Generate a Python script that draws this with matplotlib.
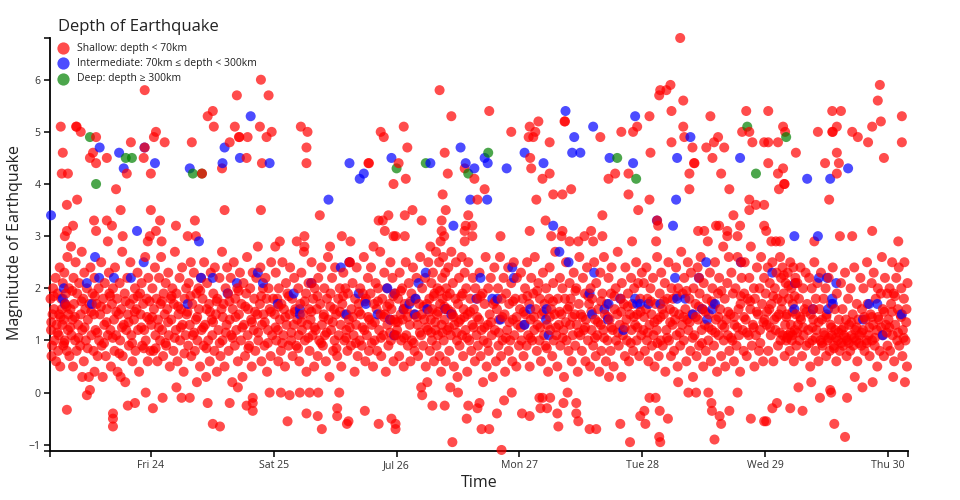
import matplotlib
matplotlib.use('Agg')
import matplotlib.pyplot as plt
from matplotlib.lines import Line2D
import pandas as pd

plt.rcParams['font.family'] = ['Open Sans', 'DejaVu Sans']

# shallow quakes (depth < 70km): (hour of day, magnitude), one list per day of July
shallow_jul23 = [
    (4.4, 1.8), (4.5, 1.2), (4.6, 0.7), (4.8, 1.5), (4.9, 2.0), (4.7, 0.9),
    (5.1, 1.6), (5.2, 1.0), (5.4, 2.2), (5.5, 0.6), (5.6, 1.3), (5.8, 1.9), (5.9, 0.8),
    (6.0, 1.1), (6.1, 1.5), (6.2, 2.4), (6.3, 0.5), (6.5, 1.8), (6.7, 1.3), (6.8, 2.1), (6.9, 0.9), (6.6, 1.6),
    (7.0, 1.4), (7.1, 2.3), (7.2, 1.0), (7.3, 1.7), (7.4, 1.9), (7.6, 0.8), (7.7, 2.6), (7.8, 1.2), (7.9, 1.5),
    (8.0, 2.0), (8.1, 0.7), (8.3, 1.6), (8.4, 2.8), (8.5, 1.1), (8.7, 1.4), (8.9, 2.2), (8.8, 0.5),
    (9.0, 1.7), (9.2, 1.0), (9.3, 2.5), (9.5, 0.8), (9.6, 1.9), (9.8, 1.3),
    (10.0, 2.1), (10.2, 0.9), (10.3, 1.5), (10.5, 2.7), (10.6, 1.2), (10.8, 1.8), (10.9, 0.6),
    (11.0, 2.3), (11.2, 1.6), (11.3, 1.0), (11.5, 2.0), (11.7, 1.4), (11.9, 0.3),
    (12.0, 1.7), (12.2, 2.4), (12.4, 1.1), (12.6, 1.9), (12.8, 0.8), (12.9, 1.5),
    (13.0, 2.2), (13.2, 1.2), (13.4, 1.7), (13.6, 0.7), (13.8, 2.0), (13.9, 1.0),
    (14.1, 1.5), (14.3, 2.5), (14.4, 0.9), (14.6, 0.3), (14.7, 1.8), (14.9, 1.3),
    (15.0, 2.1), (15.2, 0.7), (15.4, 1.6), (15.6, 1.1), (15.8, 2.3), (15.9, 1.9),
    (16.1, 1.2), (16.2, 0.5), (16.4, 1.7), (16.6, 2.0), (16.8, 1.4), (16.9, 0.8),
    (17.0, 2.4), (17.2, 1.1), (17.4, 1.8), (17.5, 0.4), (17.7, 1.5), (17.9, 2.1),
    (18.0, 1.0), (18.2, 1.6), (18.4, 2.7), (18.5, 0.7), (18.7, 1.3), (18.9, 1.9),
    (19.0, 0.2), (19.2, 1.2), (19.4, 2.2), (19.5, 1.5), (19.7, 0.9), (19.9, 1.7),
    (20.0, 2.5), (20.2, 1.1), (20.4, 0.6), (20.6, 1.8), (20.7, 1.4), (20.9, 2.0),
    (21.0, 0.8), (21.2, 1.6), (21.4, 2.3), (21.5, 1.2), (21.7, 0.4), (21.9, 1.9),
    (22.0, 1.5), (22.2, 2.1), (22.3, 0.9), (22.5, 1.7), (22.7, 1.2), (22.9, 2.6),
    (23.0, 1.0), (23.2, 1.8), (23.4, 0.6), (23.5, 2.2), (23.7, 1.4), (23.9, 0.8),
    (4.55, 1.35), (5.05, 1.85), (5.75, 1.15), (6.35, 1.45), (7.05, 0.95), (7.55, 1.65),
    (8.25, 1.25), (8.65, 1.95), (9.15, 1.45), (9.85, 1.05), (10.45, 1.75), (11.05, 1.25),
    (11.65, 0.85), (12.35, 1.55), (13.05, 1.85), (13.55, 1.15), (14.25, 1.65), (14.85, 0.95),
    (15.35, 1.35), (16.05, 1.85), (16.55, 1.05), (17.25, 1.55), (17.85, 0.75), (18.35, 1.25),
    (19.05, 1.75), (19.65, 1.35), (20.35, 0.95), (20.85, 1.55), (21.45, 1.85), (22.15, 1.25),
    (22.65, 0.85), (23.25, 1.45), (23.75, 1.75),
    (7.6, -0.33), (11.5, -0.05), (12.1, 0.05), (16.6, -0.4), (16.6, -0.5), (16.6, -0.65),
    (19.5, -0.25), (20.9, -0.2), (23.0, 0.0), (10.6, 0.3), (13.0, 0.4), (18.1, 0.3),
    (6.4, 5.1), (6.8, 4.6), (6.6, 4.2), (7.8, 4.2), (9.4, 5.1), (9.5, 5.1), (10.3, 5.0),
    (13.3, 4.9), (12.7, 4.6), (12.1, 4.5), (13.3, 4.4), (15.4, 4.5), (20.1, 4.8), (19.3, 4.2),
    (22.6, 4.5), (22.8, 5.8), (22.8, 4.7), (17.2, 3.9), (7.6, 3.6), (9.6, 3.7), (18.1, 3.5),
    (8.8, 3.2), (12.9, 3.3), (15.4, 3.3), (16.4, 3.2), (7.6, 3.1), (7.2, 3.0), (13.3, 3.1),
    (15.6, 2.9), (18.5, 3.0), (23.4, 2.9), (23.8, 3.0),
]

shallow_jul24 = [
    (0.1, 1.3), (0.3, 2.0), (0.5, 0.8), (0.6, 1.6), (0.8, 2.4), (0.9, 1.1),
    (1.1, 1.8), (1.3, 0.6), (1.4, 1.4), (1.6, 2.2), (1.8, 1.0), (1.9, 1.7),
    (2.0, 2.6), (2.2, 1.2), (2.4, 0.7), (2.5, 1.9), (2.7, 1.5), (2.9, 2.1),
    (3.0, 0.9), (3.2, 1.6), (3.4, 2.3), (3.5, 1.1), (3.7, 0.5), (3.9, 1.8),
    (4.0, 1.4), (4.2, 2.0), (4.4, 0.8), (4.5, 1.7), (4.7, 2.7), (4.9, 1.2),
    (5.0, 1.9), (5.2, 0.6), (5.4, 1.5), (5.6, 2.2), (5.7, 1.0), (5.9, 1.6),
    (6.1, 2.4), (6.2, 1.3), (6.4, 0.4), (6.6, 1.8), (6.8, 1.1), (6.9, 2.0),
    (7.0, 1.5), (7.3, 0.9), (7.4, 2.1), (7.6, 1.3), (7.8, 2.5), (7.9, 0.7),
    (8.1, 1.7), (8.2, 1.1), (8.4, 2.3), (8.6, 0.8), (8.8, 1.4), (8.9, 1.9),
    (9.1, 1.0), (9.3, 2.0), (9.4, 1.6), (9.6, 0.5), (9.8, 2.2), (9.9, 1.2),
    (10.1, 1.8), (10.3, 0.9), (10.4, 2.5), (10.6, 1.3), (10.8, 0.3), (10.9, 1.6),
    (11.0, 2.1), (11.2, 1.0), (11.4, 1.7), (11.5, 0.6), (11.7, 2.3), (11.9, 1.4),
    (12.0, 1.1), (12.2, 1.9), (12.4, 0.8), (12.5, 2.4), (12.7, 1.5), (12.9, 0.4),
    (13.0, 1.8), (13.2, 1.2), (13.4, 2.2), (13.6, 0.7), (13.8, 1.6), (13.9, 2.7),
    (14.0, 1.0), (14.2, 1.7), (14.4, 0.5), (14.6, 2.0), (14.8, 1.3), (14.9, 2.4),
    (15.1, 1.9), (15.2, 0.8), (15.4, 1.4), (15.6, 2.2), (15.7, 1.1), (15.9, 0.2),
    (16.0, 1.6), (16.2, 2.5), (16.4, 0.9), (16.5, 1.8), (16.7, 1.2), (16.9, 2.0),
    (17.0, 0.6), (17.2, 1.5), (17.4, 2.3), (17.6, 1.0), (17.7, 1.7), (17.9, 0.3),
    (18.1, 2.1), (18.2, 1.3), (18.4, 0.7), (18.6, 1.9), (18.8, 2.6), (18.9, 1.1),
    (19.0, 1.6), (19.2, 0.9), (19.4, 2.0), (19.6, 1.4), (19.7, 0.5), (19.9, 2.3),
    (20.1, 1.2), (20.2, 1.8), (20.4, 0.8), (20.6, 2.2), (20.8, 1.5), (20.9, 2.8),
    (21.0, 1.0), (21.3, 1.7), (21.4, 2.4), (21.6, 0.6), (21.7, 1.3), (21.9, 2.0),
    (22.0, 1.5), (22.2, 0.9), (22.4, 2.2), (22.6, 1.8), (22.7, 0.4), (22.9, 1.2),
    (23.0, 2.0), (23.2, 1.6), (23.4, 0.7), (23.5, 2.5), (23.7, 1.1), (23.9, 1.8),
    (0.25, 1.45), (0.95, 0.85), (1.55, 1.25), (2.15, 1.75), (2.85, 0.95), (3.35, 1.35),
    (4.05, 1.85), (4.65, 1.05), (5.35, 1.65), (5.85, 1.25), (6.55, 0.75), (7.15, 1.55),
    (7.75, 1.85), (8.45, 1.15), (9.05, 1.45), (9.65, 1.95), (10.25, 1.25), (10.85, 0.85),
    (11.55, 1.55), (12.15, 1.35), (12.85, 1.75), (13.45, 0.95), (14.05, 1.45), (14.65, 1.15),
    (15.35, 1.75), (15.95, 1.05), (16.55, 1.45), (17.15, 1.95), (17.85, 1.25), (18.45, 1.65),
    (19.05, 0.85), (19.75, 1.35), (20.35, 1.55), (20.95, 1.15), (21.55, 1.85), (22.25, 1.35),
    (22.85, 0.95), (23.45, 1.55),
    (0.4, -0.3), (2.3, -0.1), (6.0, -0.1), (7.6, -0.1), (11.1, -0.2), (12.1, -0.6),
    (13.5, -0.65), (15.4, -0.2), (18.7, -0.25), (19.9, -0.2), (19.9, -0.1), (19.9, -0.35),
    (23.2, 0.0), (5.0, 0.1), (9.0, 0.2), (17.0, 0.1),
    (1.0, 5.0), (0.6, 4.9), (2.7, 4.8), (0.0, 4.2), (0.0, 3.5), (1.8, 3.3), (1.0, 3.1),
    (2.1, 2.9), (4.9, 3.2), (8.0, 4.8), (10.0, 4.2), (8.6, 3.3), (7.2, 3.0), (8.8, 3.0),
    (11.1, 5.3), (12.1, 5.4), (12.3, 5.1), (14.4, 3.5), (13.9, 4.3), (15.4, 4.8), (16.8, 5.7),
    (16.4, 5.1), (17.2, 4.9), (17.3, 4.9), (18.9, 4.9), (18.7, 4.5), (21.5, 6.0), (21.3, 5.1),
    (21.7, 4.4), (21.5, 3.5), (22.6, 4.9), (23.0, 5.7), (23.6, 5.0),
]

shallow_jul25 = [
    (0.2, 1.5), (0.4, 2.3), (0.5, 1.0), (0.7, 1.8), (0.9, 0.6), (0.8, 1.2),
    (1.0, 2.0), (1.2, 1.4), (1.4, 0.8), (1.5, 1.7), (1.7, 2.5), (1.9, 1.1),
    (2.0, 1.6), (2.2, 0.5), (2.4, 2.1), (2.5, 1.3), (2.7, 1.9), (2.9, 0.9),
    (3.1, 1.5), (3.2, 2.4), (3.4, 1.0), (3.6, 1.8), (3.7, 0.7), (3.9, 1.3),
    (4.0, 2.2), (4.2, 1.6), (4.4, 0.9), (4.6, 1.4), (4.8, 2.0), (4.9, 1.1),
    (5.0, 0.6), (5.2, 1.7), (5.4, 2.3), (5.5, 1.2), (5.7, 1.5), (5.9, 2.7),
    (6.1, 1.0), (6.3, 1.9), (6.4, 0.4), (6.6, 1.3), (6.8, 2.1), (6.9, 1.6),
    (7.0, 0.8), (7.2, 1.4), (7.4, 2.5), (7.6, 1.1), (7.7, 1.8), (7.9, 0.5),
    (8.0, 2.0), (8.2, 1.2), (8.4, 1.6), (8.6, 0.7), (8.7, 2.2), (8.9, 1.0),
    (9.1, 1.7), (9.3, 2.4), (9.4, 1.3), (9.6, 0.9), (9.8, 1.5), (9.9, 2.0),
    (10.0, 1.1), (10.2, 0.6), (10.4, 1.8), (10.6, 2.6), (10.7, 1.4), (10.9, 0.3),
    (11.1, 1.9), (11.2, 1.2), (11.4, 2.2), (11.6, 0.8), (11.8, 1.6), (11.9, 1.0),
    (12.0, 2.4), (12.2, 1.5), (12.4, 0.7), (12.6, 1.8), (12.7, 1.1), (12.9, 2.0),
    (13.1, 1.3), (13.2, 0.5), (13.4, 1.7), (13.6, 2.3), (13.8, 1.0), (13.9, 1.5),
    (14.0, 2.0), (14.2, 1.2), (14.4, 0.8), (14.5, 1.9), (14.7, 1.4), (14.9, 2.5),
    (15.1, 0.9), (15.2, 1.6), (15.4, 2.1), (15.6, 1.1), (15.8, 0.4), (15.9, 1.8),
    (16.1, 1.3), (16.2, 2.4), (16.4, 0.7), (16.6, 1.7), (16.8, 1.0), (16.9, 2.0),
    (17.0, 1.5), (17.2, 0.9), (17.4, 1.9), (17.6, 2.6), (17.7, 1.2), (17.9, 0.6),
    (18.0, 1.8), (18.2, 1.1), (18.4, 2.2), (18.6, 0.8), (18.7, 1.4), (18.9, 1.9),
    (19.0, 2.4), (19.2, 1.3), (19.4, 0.5), (19.6, 1.7), (19.7, 1.0), (19.9, 2.1),
    (20.1, 1.6), (20.2, 0.8), (20.4, 2.0), (20.6, 1.2), (20.8, 2.7), (20.9, 1.5),
    (21.0, 0.7), (21.2, 1.8), (21.4, 1.1), (21.6, 2.3), (21.7, 1.5), (21.9, 0.4),
    (22.1, 2.0), (22.2, 1.3), (22.4, 0.9), (22.6, 1.7), (22.8, 2.5), (22.9, 1.0),
    (23.0, 1.6), (23.2, 2.2), (23.4, 0.6), (23.6, 1.4), (23.7, 1.9), (23.9, 1.1),
    (0.35, 1.25), (0.95, 1.65), (1.65, 0.95), (2.25, 1.45), (2.95, 1.85), (3.45, 1.15),
    (4.15, 1.55), (4.75, 0.85), (5.45, 1.35), (6.05, 1.75), (6.75, 1.05), (7.35, 1.55),
    (7.95, 1.25), (8.55, 1.85), (9.25, 0.95), (9.75, 1.45), (10.35, 1.15), (11.05, 1.65),
    (11.55, 1.35), (12.25, 0.85), (12.95, 1.55), (13.55, 1.85), (14.15, 1.05), (14.85, 1.25),
    (15.45, 1.45), (16.05, 0.95), (16.65, 1.55), (17.35, 1.25), (17.85, 1.75), (18.45, 1.45),
    (19.15, 0.95), (19.75, 1.35), (20.35, 1.75), (20.95, 1.05), (21.55, 1.45), (22.15, 1.65),
    (22.75, 1.15), (23.35, 1.85), (23.85, 1.35),
    (0.3, 2.8), (4.5, 2.9), (11.0, 2.8), (15.0, 2.9), (19.5, 2.8),
    (2.7, -0.55), (3.1, -0.05), (5.1, 0.0), (6.4, -0.4), (8.6, -0.45), (9.4, -0.7),
    (14.3, -0.6), (14.6, -0.55), (20.5, -0.6), (23.0, -0.5), (23.8, -0.6), (23.8, -0.7),
    (12.4, -0.3), (12.4, -0.45), (12.8, 0.0), (17.8, -0.35), (7.0, 0.0), (8.7, 0.0), (1.4, 0.0),
    (5.3, 5.1), (6.6, 5.0), (6.4, 4.7), (6.4, 4.4), (9.0, 3.4), (1.2, 2.9), (6.0, 3.0),
    (6.0, 2.8), (13.3, 3.0), (18.5, 4.4), (18.6, 4.4), (20.9, 5.0), (21.5, 4.9), (20.5, 3.3),
    (21.3, 3.3), (22.4, 3.4), (21.7, 3.1), (23.4, 3.0), (23.8, 3.0), (23.4, 4.0),
    (7.4, 2.1), (14.8, 2.5), (22.8, 1.4), (23.6, 1.1),
]

shallow_jul26 = [
    (0.1, 1.2), (0.3, 1.8), (0.5, 0.7), (0.6, 2.3), (0.8, 1.5), (0.9, 1.0),
    (1.1, 2.0), (1.2, 1.4), (1.4, 0.5), (1.6, 1.7), (1.8, 2.5), (1.9, 1.1),
    (2.0, 1.6), (2.2, 0.9), (2.4, 2.1), (2.6, 1.3), (2.7, 0.6), (2.9, 1.9),
    (3.0, 1.0), (3.2, 2.4), (3.4, 1.5), (3.5, 0.8), (3.7, 1.8), (3.9, 2.2),
    (4.1, 1.3), (4.2, 0.7), (4.4, 1.7), (4.6, 2.6), (4.8, 1.1), (4.9, 1.5),
    (5.0, 2.0), (5.2, 0.9), (5.4, 1.4), (5.6, 2.2), (5.7, 0.5), (5.9, 1.7),
    (6.1, 1.2), (6.2, 2.5), (6.4, 1.8), (6.5, 0.8), (6.7, 1.4), (6.8, 2.1), (6.9, 1.0), (6.6, 2.8),
    (7.0, 1.6), (7.1, 2.3), (7.3, 0.6), (7.4, 1.9), (7.6, 1.2), (7.7, 2.7), (7.8, 0.9), (7.9, 1.5),
    (8.0, 2.0), (8.1, 1.1), (8.3, 2.5), (8.4, 0.7), (8.5, 1.7), (8.6, 2.9), (8.8, 1.3), (8.9, 2.2), (8.7, 0.4),
    (9.0, 1.8), (9.1, 2.6), (9.2, 1.0), (9.4, 1.4), (9.5, 2.3), (9.6, 0.6), (9.7, 2.0), (9.9, 1.2), (9.3, 3.0),
    (10.0, 1.6), (10.1, 2.4), (10.3, 0.8), (10.4, 1.9), (10.6, 1.1), (10.7, 2.7), (10.9, 1.5),
    (11.0, 2.1), (11.2, 0.5), (11.3, 1.3), (11.5, 1.8), (11.6, 2.5), (11.8, 1.0), (11.9, 0.3),
    (12.0, 1.7), (12.2, 2.2), (12.3, 0.9), (12.5, 1.4), (12.7, 2.6), (12.8, 1.1), (12.9, 1.9),
    (13.0, 0.7), (13.1, 1.6), (13.3, 2.3), (13.5, 1.2), (13.6, 2.0), (13.8, 0.4), (13.9, 1.5),
    (14.0, 2.5), (14.2, 1.0), (14.4, 1.8), (14.6, 0.8), (14.8, 1.3), (14.9, 2.2),
    (15.1, 1.6), (15.3, 0.6), (15.4, 2.0), (15.6, 1.1), (15.8, 1.8), (15.9, 0.9),
    (16.1, 1.4), (16.2, 2.3), (16.4, 0.7), (16.6, 1.2), (16.8, 1.9), (16.9, 0.2),
    (17.0, 1.0), (17.2, 1.7), (17.4, 2.6), (17.6, 0.5), (17.8, 1.3), (17.9, 2.0),
    (18.0, 0.8), (18.2, 1.5), (18.4, 2.2), (18.6, 1.1), (18.8, 0.3), (18.9, 1.7),
    (19.1, 2.4), (19.2, 1.2), (19.4, 0.6), (19.6, 1.6), (19.8, 2.0), (19.9, 0.9),
    (20.0, 1.4), (20.2, 2.6), (20.4, 0.7), (20.5, 1.8), (20.7, 1.0), (20.9, 2.2),
    (21.1, 1.5), (21.2, 0.4), (21.4, 1.9), (21.6, 1.2), (21.8, 2.4), (21.9, 0.8),
    (22.0, 1.7), (22.2, 1.0), (22.4, 2.1), (22.6, 0.6), (22.7, 1.4), (22.9, 2.5),
    (23.0, 1.1), (23.2, 1.8), (23.4, 0.5), (23.5, 2.2), (23.7, 1.3), (23.9, 0.9),
    (0.25, 1.35), (0.85, 1.95), (1.45, 1.05), (2.15, 1.45), (2.75, 1.75), (3.35, 0.95),
    (3.95, 1.45), (4.55, 1.15), (5.25, 1.65), (5.85, 1.25), (6.35, 1.55), (6.75, 1.15),
    (7.25, 1.85), (7.55, 1.35), (8.15, 1.55), (8.45, 1.95), (8.95, 1.15), (9.35, 1.65),
    (9.85, 1.85), (10.25, 1.25), (10.65, 1.55), (11.15, 1.45), (11.75, 1.15), (12.15, 1.35),
    (12.65, 1.85), (13.25, 1.45), (13.75, 1.05), (14.35, 1.55), (15.05, 1.25), (15.75, 1.45),
    (16.45, 1.85), (17.15, 1.25), (17.75, 0.95), (18.45, 1.35), (19.25, 1.75), (19.95, 1.15),
    (20.65, 1.45), (21.35, 1.05), (22.05, 1.35), (22.75, 1.75), (23.45, 1.45),
    (5.0, -0.05), (7.0, -0.25), (9.4, -0.25), (10.9, -0.95), (13.7, -0.5), (14.0, -0.25),
    (16.6, -0.7), (18.1, -0.7), (19.6, -0.4), (20.5, -1.1), (15.8, -0.3), (16.2, -0.2),
    (4.8, 0.1), (12.0, 0.0), (22.5, 0.0), (21.0, -0.15), (6.0, 0.2), (10.5, 0.1),
    (0.4, 4.4), (1.4, 5.1), (2.1, 4.7), (1.8, 4.1), (1.6, 3.4), (3.1, 3.5), (4.9, 3.3),
    (1.6, 3.0), (8.4, 5.8), (10.7, 5.3), (9.4, 4.6), (10.0, 4.2), (9.0, 3.8), (9.6, 3.5),
    (8.8, 3.3), (8.8, 3.1), (13.3, 4.3), (15.2, 4.1), (14.0, 3.4), (13.5, 3.2), (14.8, 3.2),
    (13.3, 3.1), (14.8, 3.0), (13.3, 2.9), (18.1, 5.4), (15.8, 3.7), (17.2, 3.9), (20.3, 3.0),
    (22.4, 5.0), (1.4, 1.6), (9.6, 1.6),
]

shallow_jul27 = [
    (0.1, 1.6), (0.3, 2.3), (0.4, 1.0), (0.6, 1.8), (0.8, 0.7), (0.9, 1.3),
    (1.1, 2.0), (1.2, 1.5), (1.4, 0.9), (1.5, 2.5), (1.7, 1.1), (1.9, 1.7),
    (2.0, 0.5), (2.2, 1.4), (2.3, 2.2), (2.5, 1.0), (2.7, 1.9), (2.9, 1.2),
    (3.0, 2.6), (3.2, 1.6), (3.4, 0.8), (3.5, 1.3), (3.7, 2.1), (3.9, 1.0),
    (4.0, 1.8), (4.2, 0.6), (4.4, 1.5), (4.6, 2.3), (4.8, 1.1), (4.9, 1.7),
    (5.1, 0.9), (5.2, 2.0), (5.4, 1.3), (5.6, 0.4), (5.8, 1.8), (5.9, 2.4),
    (6.0, 1.2), (6.2, 1.6), (6.4, 0.7), (6.6, 2.1), (6.7, 1.0), (6.9, 1.5),
    (7.0, 2.7), (7.2, 1.1), (7.4, 0.5), (7.5, 1.8), (7.7, 1.3), (7.9, 2.2),
    (8.0, 0.9), (8.2, 1.5), (8.4, 2.0), (8.6, 1.2), (8.7, 0.3), (8.9, 1.8),
    (9.1, 2.5), (9.2, 1.0), (9.4, 1.6), (9.6, 0.8), (9.8, 2.1), (9.9, 1.3),
    (10.0, 1.8), (10.2, 0.6), (10.4, 1.1), (10.6, 2.3), (10.8, 1.5), (10.9, 0.9),
    (11.1, 2.0), (11.2, 1.3), (11.4, 0.4), (11.6, 1.7), (11.7, 2.6), (11.9, 1.1),
    (12.0, 1.5), (12.2, 0.8), (12.4, 2.2), (12.6, 1.2), (12.8, 1.9), (12.9, 0.6),
    (13.0, 1.4), (13.2, 2.4), (13.4, 1.0), (13.6, 1.7), (13.8, 0.5), (13.9, 2.0),
    (14.1, 1.2), (14.2, 1.8), (14.4, 0.9), (14.6, 2.5), (14.8, 1.4), (14.9, 0.7),
    (15.0, 2.1), (15.2, 1.1), (15.4, 1.6), (15.6, 0.4), (15.8, 2.3), (15.9, 1.3),
    (16.0, 0.8), (16.2, 1.9), (16.4, 1.2), (16.5, 2.6), (16.7, 1.5), (16.9, 0.6),
    (17.1, 1.7), (17.2, 1.0), (17.4, 2.2), (17.6, 1.4), (17.8, 0.8), (17.9, 1.9),
    (18.0, 2.4), (18.2, 1.2), (18.4, 0.5), (18.6, 1.6), (18.8, 2.0), (18.9, 1.0),
    (19.1, 1.5), (19.2, 2.7), (19.4, 0.9), (19.6, 1.3), (19.8, 1.8), (19.9, 0.3),
    (20.0, 2.1), (20.2, 1.1), (20.4, 1.7), (20.6, 0.7), (20.7, 2.4), (20.9, 1.4),
    (21.0, 1.0), (21.2, 1.9), (21.4, 0.6), (21.6, 1.5), (21.8, 2.2), (21.9, 1.2),
    (22.1, 1.7), (22.2, 0.8), (22.4, 2.0), (22.6, 1.3), (22.8, 2.5), (22.9, 1.0),
    (23.0, 1.5), (23.2, 2.1), (23.4, 0.7), (23.6, 1.8), (23.8, 1.1), (23.9, 2.3),
    (0.25, 1.25), (0.85, 1.55), (1.55, 1.85), (2.15, 1.05), (2.85, 1.45), (3.45, 1.95),
    (4.05, 1.25), (4.75, 1.55), (5.35, 0.85), (5.95, 1.45), (6.55, 1.75), (7.15, 1.25),
    (7.85, 1.55), (8.45, 1.05), (9.05, 1.35), (9.75, 1.65), (10.35, 1.45), (10.95, 1.95),
    (11.55, 1.15), (12.25, 1.45), (12.85, 1.25), (13.45, 1.85), (14.05, 1.55), (14.75, 1.05),
    (15.35, 1.35), (15.95, 1.75), (16.55, 1.05), (17.25, 1.45), (17.95, 1.25), (18.55, 1.85),
    (19.25, 1.15), (19.85, 1.55), (20.55, 1.25), (21.15, 1.65), (21.75, 0.95), (22.35, 1.45),
    (23.05, 1.25), (23.65, 1.55),
    (3.9, -0.1), (4.1, -0.3), (4.5, -0.1), (5.4, -0.3), (6.0, -0.1), (7.4, -0.4),
    (7.6, -0.65), (8.6, -0.2), (11.1, -0.2), (11.1, -0.4), (11.5, -0.55), (13.7, -0.7),
    (15.0, -0.7), (17.5, 0.3), (19.7, -0.6), (21.6, -0.95), (23.6, -0.45), (9.4, 0.0),
    (2.0, -0.45), (0.5, -0.4),
    (2.0, 5.1), (3.1, 5.0), (3.7, 5.2), (1.8, 4.9), (2.7, 4.9), (5.9, 4.8), (2.1, 4.5),
    (2.3, 4.3), (5.9, 4.2), (4.5, 4.1), (3.3, 3.7), (6.6, 3.8), (8.4, 3.8), (10.1, 3.9),
    (5.1, 3.3), (2.0, 3.1), (8.8, 5.2), (8.9, 5.2), (6.2, 3.0), (8.4, 3.1), (8.2, 3.0),
    (9.8, 2.9), (11.5, 2.9), (12.7, 3.0), (14.0, 3.1), (14.4, 2.9), (16.2, 3.0), (15.8, 4.9),
    (16.2, 3.4), (17.4, 4.1), (18.7, 4.2), (19.9, 5.0), (21.3, 4.2), (21.3, 3.8), (22.0, 2.9),
    (22.2, 5.0), (23.0, 5.1), (23.2, 3.5),
]

shallow_jul28 = [
    (0.2, 1.2), (0.3, 2.1), (0.5, 0.8), (0.7, 1.6), (0.8, 2.4), (0.9, 1.0),
    (1.0, 1.8), (1.2, 0.6), (1.4, 1.3), (1.6, 2.0), (1.8, 1.5), (1.9, 0.9),
    (2.1, 2.2), (2.2, 1.1), (2.4, 0.5), (2.6, 1.7), (2.8, 1.2), (2.9, 2.6),
    (3.0, 1.4), (3.2, 0.7), (3.4, 1.9), (3.6, 1.0), (3.7, 2.3), (3.9, 1.6),
    (4.0, 0.9), (4.2, 1.5), (4.4, 2.1), (4.5, 0.4), (4.7, 1.2), (4.9, 1.8),
    (5.1, 2.5), (5.2, 1.0), (5.4, 1.6), (5.6, 0.7), (5.7, 2.0), (5.9, 1.3),
    (6.0, 1.8), (6.2, 0.8), (6.4, 1.4), (6.6, 2.4), (6.7, 1.1), (6.9, 0.5),
    (7.0, 2.0), (7.2, 1.5), (7.4, 0.9), (7.6, 2.7), (7.8, 1.3), (7.9, 1.9),
    (8.1, 1.0), (8.2, 2.2), (8.4, 1.6), (8.6, 0.6), (8.8, 1.4), (8.9, 2.5),
    (9.0, 1.2), (9.2, 1.8), (9.4, 0.8), (9.5, 2.3), (9.7, 1.5), (9.9, 0.3),
    (10.0, 2.0), (10.2, 1.1), (10.4, 1.7), (10.6, 0.7), (10.8, 2.4), (10.9, 1.4),
    (11.1, 0.9), (11.2, 1.9), (11.4, 2.6), (11.6, 1.2), (11.8, 1.6), (11.9, 0.5),
    (12.0, 2.1), (12.2, 1.3), (12.4, 0.8), (12.6, 1.8), (12.8, 2.9), (12.9, 1.0),
    (13.0, 1.5), (13.2, 2.3), (13.4, 0.6), (13.6, 1.2), (13.7, 2.0), (13.9, 1.7),
    (14.0, 0.9), (14.2, 2.5), (14.4, 1.4), (14.6, 0.4), (14.8, 1.9), (14.9, 1.1),
    (15.0, 2.2), (15.2, 1.6), (15.4, 0.7), (15.6, 1.3), (15.8, 2.8), (15.9, 1.0),
    (16.1, 1.8), (16.2, 0.5), (16.4, 1.4), (16.6, 2.1), (16.7, 1.1), (16.9, 2.6),
    (17.0, 0.8), (17.2, 1.5), (17.4, 2.3), (17.6, 1.0), (17.7, 1.9), (17.9, 0.6),
    (18.0, 1.3), (18.2, 2.0), (18.4, 0.9), (18.6, 2.6), (18.8, 1.6), (18.9, 1.1),
    (19.1, 0.4), (19.2, 1.7), (19.4, 2.2), (19.6, 1.2), (19.8, 0.8), (19.9, 1.9),
    (20.0, 2.5), (20.2, 1.4), (20.4, 0.7), (20.6, 1.8), (20.8, 1.1), (20.9, 2.2),
    (21.1, 1.6), (21.2, 2.8), (21.4, 0.9), (21.6, 1.3), (21.8, 2.0), (21.9, 0.5),
    (22.0, 1.8), (22.2, 1.1), (22.4, 2.4), (22.6, 1.5), (22.8, 0.8), (22.9, 2.0),
    (23.0, 1.2), (23.2, 2.6), (23.4, 1.7), (23.6, 0.6), (23.8, 2.2), (23.9, 1.4),
    (0.35, 1.45), (1.05, 1.15), (1.65, 1.75), (2.35, 1.35), (2.95, 0.95), (3.55, 1.45),
    (4.25, 1.75), (4.85, 1.05), (5.45, 1.35), (6.15, 1.55), (6.75, 1.85), (7.35, 1.15),
    (8.05, 1.45), (8.65, 1.95), (9.25, 1.35), (9.85, 1.05), (10.45, 1.45), (11.05, 1.65),
    (11.65, 0.95), (12.35, 1.55), (12.95, 1.25), (13.55, 1.75), (14.25, 1.15), (14.85, 1.45),
    (15.45, 1.95), (16.05, 1.25), (16.75, 1.55), (17.35, 1.05), (17.95, 1.45), (18.55, 1.25),
    (19.25, 1.85), (19.85, 1.45), (20.45, 1.15), (21.05, 1.75), (21.75, 1.25), (22.35, 1.55),
    (23.05, 0.95), (23.65, 1.35),
    (0.4, -0.35), (0.6, -0.6), (1.4, -0.1), (2.6, -0.1), (3.3, -0.85), (3.4, -0.35),
    (3.5, -0.95), (5.0, -0.5), (9.0, 0.0), (12.9, 0.0), (13.5, -0.2), (13.6, -0.35),
    (14.1, -0.9), (15.1, -0.45), (15.4, -0.6), (17.0, -0.35), (18.6, 0.0), (21.2, -0.5),
    (23.8, -0.55), (10.5, 0.0), (7.0, 0.2),
    (1.4, 5.3), (1.6, 4.6), (3.3, 5.7), (3.5, 5.8), (4.7, 5.8), (5.5, 5.9), (5.7, 5.4),
    (8.0, 5.6), (7.4, 6.8), (8.0, 5.1), (8.2, 4.9), (5.7, 4.8), (1.4, 3.7), (3.1, 3.2),
    (2.7, 2.9), (9.2, 4.2), (9.2, 3.9), (9.8, 4.7), (10.1, 4.4), (10.2, 4.4), (13.3, 5.3),
    (12.5, 4.7), (14.0, 4.8), (14.8, 4.9), (13.7, 4.5), (16.0, 4.7), (15.4, 4.2), (17.0, 3.9),
    (17.8, 3.4), (14.4, 3.2), (15.0, 3.2), (10.9, 3.1), (12.1, 3.1), (16.6, 3.1), (16.6, 3.0),
    (18.6, 3.0), (19.1, 3.2), (20.3, 5.4), (19.5, 5.0), (20.9, 5.0), (21.5, 4.8), (20.9, 3.7),
    (20.9, 3.5), (22.2, 3.6), (23.8, 3.6), (23.8, 4.8), (23.8, 3.2),
    (2.9, 3.3), (11.1, 2.2), (19.3, 2.5),
]

shallow_jul29 = [
    (0.1, 1.9), (0.3, 1.3), (0.5, 2.4), (0.6, 0.8), (0.8, 1.6), (0.9, 2.1),
    (1.1, 1.1), (1.2, 1.7), (1.4, 2.5), (1.6, 0.6), (1.8, 1.4), (1.9, 2.0),
    (2.0, 1.2), (2.2, 2.3), (2.4, 1.8), (2.5, 0.9), (2.7, 1.5), (2.9, 2.6),
    (3.0, 1.0), (3.1, 2.2), (3.2, 1.6), (3.4, 2.4), (3.5, 1.1), (3.6, 1.9), (3.8, 0.7), (3.9, 1.3),
    (4.0, 2.1), (4.1, 1.0), (4.2, 1.5), (4.4, 2.3), (4.5, 1.1), (4.6, 1.8), (4.8, 0.8), (4.9, 2.5), (4.3, 1.05),
    (5.0, 1.3), (5.1, 2.0), (5.2, 1.0), (5.4, 1.7), (5.5, 2.4), (5.6, 0.6), (5.8, 1.2), (5.9, 2.2), (5.3, 1.1),
    (6.0, 1.5), (6.1, 0.9), (6.3, 2.1), (6.4, 1.3), (6.6, 1.8), (6.7, 1.0), (6.9, 2.4),
    (7.0, 1.4), (7.2, 0.7), (7.4, 2.0), (7.5, 1.1), (7.7, 1.6), (7.9, 2.3),
    (8.0, 0.9), (8.2, 1.7), (8.4, 1.2), (8.6, 2.2), (8.8, 0.5), (8.9, 1.5),
    (9.1, 2.0), (9.2, 1.0), (9.4, 1.4), (9.6, 2.5), (9.8, 0.8), (9.9, 1.8),
    (10.0, 1.2), (10.2, 2.1), (10.4, 0.6), (10.6, 1.6), (10.8, 1.0), (10.9, 2.3),
    (11.1, 1.4), (11.2, 0.9), (11.4, 1.8), (11.6, 1.1), (11.8, 2.0), (11.9, 0.7),
    (12.0, 1.5), (12.2, 1.0), (12.4, 2.2), (12.6, 0.8), (12.8, 1.3), (12.9, 1.7),
    (13.0, 1.1), (13.2, 2.4), (13.4, 0.9), (13.6, 1.6), (13.7, 1.2), (13.9, 0.6),
    (14.0, 1.9), (14.2, 1.0), (14.4, 1.4), (14.6, 0.8), (14.8, 2.1), (14.9, 1.2),
    (15.1, 1.6), (15.2, 0.9), (15.4, 1.1), (15.6, 2.3), (15.8, 1.4), (15.9, 0.7),
    (16.0, 1.0), (16.2, 1.8), (16.4, 1.3), (16.6, 0.8), (16.7, 2.0), (16.9, 1.1),
    (17.1, 1.5), (17.2, 0.9), (17.4, 2.4), (17.6, 1.2), (17.8, 1.0), (17.9, 1.7),
    (18.0, 0.6), (18.2, 1.4), (18.4, 1.1), (18.6, 2.2), (18.8, 0.9), (18.9, 1.6),
    (19.1, 1.2), (19.2, 2.0), (19.4, 0.8), (19.6, 1.4), (19.8, 1.0), (19.9, 2.5),
    (20.0, 1.7), (20.2, 1.1), (20.4, 0.7), (20.6, 1.5), (20.8, 2.1), (20.9, 1.0),
    (21.1, 1.3), (21.2, 2.3), (21.4, 0.9), (21.6, 1.8), (21.8, 1.2), (21.9, 0.5),
    (22.0, 2.0), (22.2, 1.4), (22.4, 0.8), (22.6, 1.9), (22.8, 2.6), (22.9, 1.1),
    (23.0, 1.6), (23.2, 0.7), (23.4, 2.2), (23.6, 1.3), (23.8, 1.9), (23.9, 0.9),
    (0.35, 1.55), (0.95, 1.25), (1.55, 1.85), (2.25, 1.45), (2.85, 1.15), (3.25, 1.75),
    (3.65, 2.25), (4.15, 1.45), (4.55, 2.05), (4.95, 1.15), (5.35, 1.55), (5.75, 1.85),
    (6.25, 1.15), (6.85, 1.45), (7.45, 1.25), (8.05, 1.55), (8.65, 0.95), (9.25, 1.25),
    (9.85, 1.05), (10.45, 1.35), (11.05, 0.95), (11.45, 1.15), (11.95, 1.45), (12.45, 1.05),
    (12.95, 1.25), (13.45, 0.85), (13.85, 1.05), (14.35, 1.15), (14.85, 0.95), (15.35, 1.25),
    (15.85, 1.05), (16.35, 0.95), (16.85, 1.35), (17.35, 1.05), (17.85, 1.25), (18.35, 0.95),
    (18.85, 1.15), (19.35, 1.45), (19.85, 0.95), (20.35, 1.25), (20.85, 1.45), (21.45, 1.05),
    (22.05, 1.45), (22.65, 1.25), (23.25, 1.55), (23.75, 1.15),
    (0.2, -0.55), (1.4, -0.3), (2.3, -0.2), (4.9, -0.3), (7.3, -0.35), (10.7, -0.1),
    (12.9, 0.0), (12.7, 0.05), (13.5, -0.6), (15.6, -0.85), (6.5, 0.1), (9.0, 0.2),
    (17.5, 0.3), (19.0, 0.1), (21.0, 0.2), (16.0, -0.1),
    (0.6, 5.4), (0.6, 4.8), (0.6, 4.4), (2.5, 4.8), (3.5, 5.1), (3.9, 5.0), (3.5, 4.3),
    (2.5, 4.2), (3.7, 4.0), (3.8, 4.0), (2.7, 3.9), (0.2, 3.1), (1.2, 2.9), (2.1, 2.9),
    (2.9, 2.9), (6.0, 4.6), (10.3, 5.0), (9.6, 2.9), (13.1, 5.0), (13.2, 5.0), (13.1, 5.4),
    (14.8, 5.4), (14.0, 5.1), (14.0, 4.6), (11.7, 4.4), (14.4, 4.4), (14.0, 4.2), (12.5, 3.7),
    (14.6, 3.0), (17.0, 3.0), (17.0, 5.0), (18.1, 4.9), (20.1, 4.8), (20.9, 5.1), (20.9, 3.1),
    (22.6, 5.2), (22.0, 5.6), (22.4, 5.9), (23.2, 4.5),
    (5.9, 2.1), (9.4, 1.6),
]

shallow_jul30 = [
    (0.1, 1.4), (0.3, 2.0), (0.4, 0.8), (0.6, 1.7), (0.8, 2.5), (0.9, 1.1),
    (1.1, 1.9), (1.2, 0.6), (1.4, 1.3), (1.6, 2.2), (1.8, 1.0), (1.9, 1.6),
    (2.1, 2.4), (2.2, 0.9), (2.4, 1.5), (2.6, 2.0), (2.8, 0.7), (2.9, 1.2),
    (3.1, 1.8), (3.2, 2.5), (3.4, 1.0), (3.6, 1.6), (3.7, 0.5), (3.8, 2.1),
    (0.25, 1.25), (0.75, 1.55), (1.35, 1.85), (1.95, 1.15), (2.55, 1.45), (3.05, 1.05), (3.55, 1.35),
    (1.0, 0.3), (2.0, 2.9), (3.3, 0.2), (2.7, 5.3), (2.7, 4.8),
]

shallow_by_day = {23: shallow_jul23, 24: shallow_jul24, 25: shallow_jul25, 26: shallow_jul26,
                  27: shallow_jul27, 28: shallow_jul28, 29: shallow_jul29, 30: shallow_jul30}

# intermediate quakes (70-300km): (day of July, hour, magnitude)
intermediate = [
    (23, 4.5, 3.4), (23, 14.0, 4.7), (23, 17.8, 4.6), (23, 18.7, 4.3), (23, 22.75, 4.7), (23, 21.3, 3.1),
    (23, 7.0, 2.0), (23, 7.2, 1.7), (23, 6.8, 1.8), (23, 11.5, 2.1), (23, 12.5, 1.7), (23, 13.1, 2.6),
    (23, 13.9, 2.2), (23, 16.8, 2.2), (23, 20.1, 2.2), (23, 22.6, 2.5),
    (24, 0.8, 4.4), (24, 7.6, 4.3), (24, 9.4, 2.9), (24, 14.4, 4.7), (24, 14.0, 4.4), (24, 17.4, 4.5),
    (24, 19.5, 5.3), (24, 23.2, 4.4), (24, 7.2, 1.7), (24, 9.8, 2.2), (24, 12.1, 2.2), (24, 15.0, 1.9),
    (24, 16.8, 2.1), (24, 20.9, 2.3), (24, 21.9, 2.1),
    (25, 0.8, 1.7), (25, 3.9, 1.9), (25, 5.1, 1.6), (25, 5.1, 1.5), (25, 7.35, 2.1), (25, 10.7, 3.7),
    (25, 13.1, 2.4), (25, 14.75, 2.5), (25, 14.8, 4.4), (25, 17.6, 4.2), (25, 16.8, 4.1), (25, 16.6, 1.9),
    (25, 18.0, 1.7), (25, 14.2, 1.5), (25, 20.3, 1.5), (25, 22.2, 2.0), (25, 23.6, 1.9), (25, 22.75, 1.4),
    (25, 23.0, 4.5), (25, 23.55, 1.1),
    (26, 1.35, 1.6), (26, 2.5, 1.7), (26, 3.7, 1.8), (26, 4.3, 2.1), (26, 5.7, 2.3), (26, 6.0, 1.6),
    (26, 3.6, 1.5), (26, 6.6, 4.4), (26, 9.55, 1.6), (26, 10.7, 1.5), (26, 11.1, 3.2), (26, 12.5, 4.7),
    (26, 13.5, 4.4), (26, 15.2, 4.3), (26, 14.4, 3.7), (26, 15.6, 1.8), (26, 16.4, 2.2), (26, 17.2, 4.5),
    (26, 17.8, 4.4), (26, 17.7, 3.7), (26, 18.7, 1.8), (26, 19.7, 1.8), (26, 20.3, 1.4), (26, 21.5, 4.3),
    (26, 22.6, 2.4), (26, 22.9, 2.2),
    (27, 1.0, 4.6), (27, 1.0, 1.3), (27, 2.1, 1.6), (27, 4.7, 4.4), (27, 5.3, 1.6), (27, 5.2, 1.4),
    (27, 5.7, 1.1), (27, 6.6, 3.2), (27, 7.8, 2.7), (27, 9.0, 5.4), (27, 9.6, 2.5), (27, 10.7, 4.9),
    (27, 10.3, 4.6), (27, 11.9, 4.6), (27, 13.7, 1.9), (27, 14.2, 1.5), (27, 14.4, 5.1), (27, 14.6, 2.3),
    (27, 16.6, 1.6), (27, 17.4, 1.7), (27, 17.3, 1.4), (27, 17.6, 4.5), (27, 19.7, 1.8), (27, 20.3, 1.2),
    (27, 22.2, 4.4), (27, 22.6, 1.8), (27, 23.0, 1.7), (27, 22.6, 5.3), (27, 23.6, 1.7),
    (28, 2.85, 3.3), (28, 6.0, 3.2), (28, 6.6, 3.7), (28, 6.8, 4.5), (28, 6.4, 2.2), (28, 6.8, 1.8),
    (28, 8.4, 1.8), (28, 9.4, 4.9), (28, 11.05, 2.2), (28, 12.5, 2.5), (28, 1.2, 1.7), (28, 3.5, 1.7),
    (28, 11.7, 1.6), (28, 9.9, 1.5), (28, 13.7, 1.6), (28, 14.2, 1.7), (28, 12.7, 1.4), (28, 19.1, 4.5),
    (28, 19.25, 2.5),
    (29, 1.4, 2.3), (29, 5.85, 2.1), (29, 5.7, 1.6), (29, 5.7, 3.0), (29, 8.2, 4.1), (29, 9.35, 1.6),
    (29, 10.3, 3.0), (29, 10.5, 2.2), (29, 12.1, 2.2), (29, 12.7, 4.1), (29, 13.9, 2.1), (29, 13.1, 1.8),
    (29, 13.2, 1.7), (29, 12.3, 1.6), (29, 16.2, 4.3), (29, 19.1, 1.4), (29, 20.3, 1.7), (29, 21.9, 1.7),
    (29, 23.0, 1.1),
    (30, 2.7, 1.5),
]

# deep quakes (>= 300km): (day of July, hour, magnitude)
deep = [
    (23, 12.1, 4.9), (23, 13.3, 4.0), (23, 19.1, 4.5), (23, 20.3, 4.5),
    (24, 8.2, 4.2), (24, 9.95, 4.2),
    (26, 0.0, 4.3), (26, 5.7, 4.4), (26, 14.0, 4.2), (26, 17.9, 4.6),
    (27, 19.1, 4.5), (27, 22.8, 4.1),
    (28, 20.5, 5.1), (28, 22.2, 4.2),
    (29, 4.1, 4.9),
]

categories = ['Shallow: depth < 70km', 'Intermediate: 70km ≤ depth < 300km', 'Deep: depth ≥ 300km']
colors = ['#ff0000', '#0000ff', '#008000']
tick_days = [24, 25, 26, 27, 28, 29, 30]
tick_labels = ['Fri 24', 'Sat 25', 'Jul 26', 'Mon 27', 'Tue 28', 'Wed 29', 'Thu 30']

base = pd.Timestamp('2020-07-01')

rows = []
for day, pts in shallow_by_day.items():
    for h, m in pts:
        rows.append(((day - 1) * 24 + h, m, 0))
for day, h, m in intermediate:
    rows.append(((day - 1) * 24 + h, m, 1))
for day, h, m in deep:
    rows.append(((day - 1) * 24 + h, m, 2))

# points are drawn in time order, like the original
df = pd.DataFrame(rows, columns=['hours', 'mag', 'cls'])
df = df.sort_values('hours', kind='stable')
df['time'] = base + pd.to_timedelta(df['hours'], unit='h')
df['color'] = [colors[c] for c in df['cls']]

W, H = 960, 500
fig = plt.figure(figsize=(W / 100, H / 100), dpi=100)
ax = fig.add_axes([50 / W, 1 - 451 / H, 858 / W, 413 / H])

ax.scatter(df['time'], df['mag'], c=df['color'], s=52, alpha=0.7, linewidths=0,
           zorder=3, clip_on=False)

x0 = base + pd.Timedelta(hours=22 * 24 + 4.3)
x1 = base + pd.Timedelta(hours=29 * 24 + 3.9)
y0, y1 = -1.12, 6.8
ax.set_xlim(x0, x1)
ax.set_ylim(y0, y1)

for s in ['top', 'right']:
    ax.spines[s].set_visible(False)
for s in ['left', 'bottom']:
    ax.spines[s].set_linewidth(1.3)
    ax.spines[s].set_color('black')

ax.set_yticks(range(-1, 7))
ax.set_yticks([y0, y1], minor=True)
ax.set_xticks([base + pd.Timedelta(days=d - 1) for d in tick_days])
ax.set_xticklabels(tick_labels)
ax.set_xticks([x0, x1], minor=True)
ax.tick_params(which='both', direction='out', length=4.3, width=1.1, color='black',
               labelsize=7.6, labelcolor='#333333', pad=2.5)
ax.tick_params(which='minor', labelleft=False, labelbottom=False)

fig.text(479 / W, 1 - 483 / H, 'Time', ha='center', va='center', fontsize=11.5, color='#222222')
fig.text(15 / W, 1 - 243 / H, 'Magnitutde of Earthquake', ha='center', va='center',
         rotation=90, fontsize=11.5, color='#222222')

# legend drawn by hand at the top left
fig.text(58 / W, 1 - 27 / H, 'Depth of Earthquake', ha='left', va='center', fontsize=12, color='#222222')
for i, (label, col) in enumerate(zip(categories, colors)):
    yy = 1 - (48 + 15.3 * i) / H
    fig.add_artist(Line2D([63 / W], [yy], marker='o', markersize=8.8, markerfacecolor=col,
                          markeredgewidth=0, alpha=0.7, linestyle='none', transform=fig.transFigure))
    fig.text(77 / W, yy, label, ha='left', va='center', fontsize=7.5, color='#222222')

fig.savefig('out.png', dpi=100)
